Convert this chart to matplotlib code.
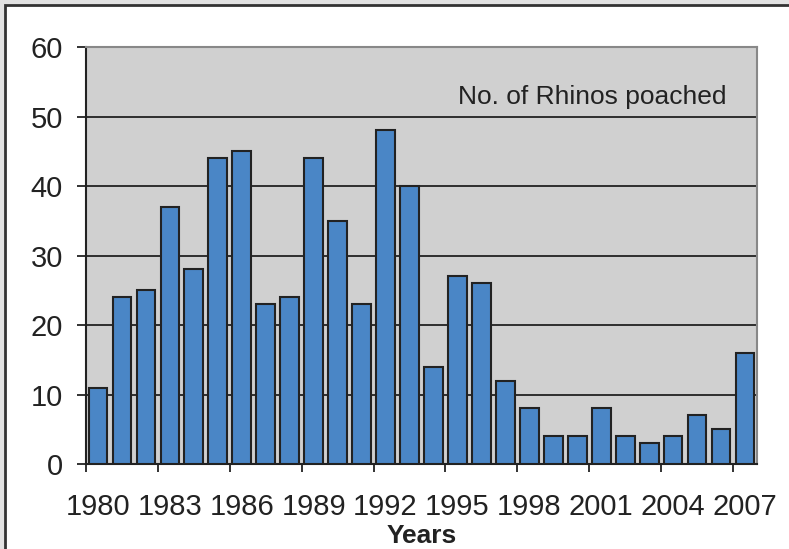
import matplotlib
matplotlib.use("Agg")
import matplotlib.pyplot as plt
from matplotlib.patches import Rectangle

# Rhinos poached per year
years = list(range(1980, 2008))
poached = [11, 24, 25, 37, 28, 44, 45, 23, 24, 44, 35, 23, 48, 40,
           14, 27, 26, 12, 8, 4, 4, 8, 4, 3, 4, 7, 5, 16]
label_years = years[::3]

plt.rcParams['font.family'] = ['Liberation Sans', 'DejaVu Sans']

fig = plt.figure(figsize=(7.89, 5.49), dpi=100, facecolor='#e2e2e2')
# white panel with dark frame
fig.patches.append(Rectangle((5 / 789, -0.01), 1.0, 1 - 5 / 549 + 0.01,
                             transform=fig.transFigure, facecolor='white',
                             edgecolor='#333333', linewidth=2, zorder=-5))

ax = fig.add_axes([86 / 789, 1 - 464 / 549, (757 - 86) / 789, (464 - 47) / 549])
ax.set_facecolor('#d0d0d0')

x = list(range(len(years)))
ax.bar(x, poached, width=0.78, color='#4a86c6', edgecolor='#222222',
       linewidth=1.5, zorder=3)

ax.set_xlim(-0.5, len(years) - 0.5)
ax.set_ylim(0, 60)
ax.set_yticks(range(0, 61, 10))
ax.yaxis.grid(True, color='#222222', linewidth=1.3, zorder=1)

ax.set_xticks([years.index(y) for y in label_years])
ax.set_xticklabels([str(y) for y in label_years])
ax.set_xticks([i - 0.5 for i in range(0, len(years) + 1, 3)], minor=True)
ax.tick_params(axis='x', which='major', length=0, pad=21, labelsize=21,
               colors='#222222')
ax.tick_params(axis='x', which='minor', length=6, width=1.3, color='#222222')
ax.tick_params(axis='y', length=6.5, width=1.3, labelsize=21, pad=10,
               colors='#222222')

for s in ['left', 'bottom']:
    ax.spines[s].set_color('#222222')
    ax.spines[s].set_linewidth(1.5)
for s in ['top', 'right']:
    ax.spines[s].set_color('#888888')
    ax.spines[s].set_linewidth(1.5)

ax.text(0.955, 0.88, 'No. of Rhinos poached', transform=ax.transAxes,
        ha='right', va='center', fontsize=19, color='#222222', zorder=4)
ax.set_xlabel('Years', fontsize=19, fontweight='bold', color='#222222',
              labelpad=2)

fig.savefig('out.png', dpi=100, facecolor=fig.get_facecolor())
